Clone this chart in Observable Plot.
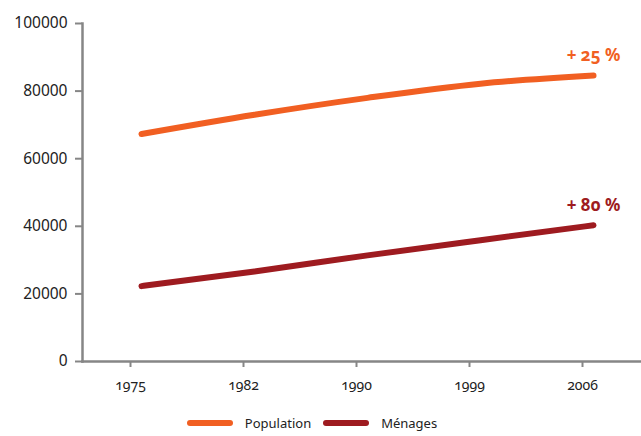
<!DOCTYPE html>
<html>
<head>
<meta charset="utf-8">
<script src="https://cdn.jsdelivr.net/npm/d3@7"></script>
<script src="https://cdn.jsdelivr.net/npm/@observablehq/plot@0.6"></script>
<style>
  html, body { margin: 0; padding: 0; background: #fff; }
  body { width: 641px; height: 436px; overflow: hidden; font-family: "Noto Sans", sans-serif; }
  #chart svg { display: block; font-variant-numeric: oldstyle-nums; }
  .legend { display: flex; align-items: center; justify-content: center; gap: 0; padding-right: 17px;
            font-size: 13px; color: #222; height: 26px; }
  .legend .item { display: flex; align-items: center; }
  .legend .swatch { width: 46px; height: 6px; border-radius: 3px; margin-right: 12px; }
  .legend .item + .item { margin-left: 12px; }
</style>
</head>
<body>
<div id="chart"></div>
<script>
// Census years (ordinal, evenly spaced on the axis)
const years = ["1975", "1982", "1990", "1999", "2006"];

// Population and number of households per census year
const population = [67300, 73000, 78000, 82200, 84600];
const menages = [22300, 26650, 31400, 35900, 40300];

// Series names, colours and growth labels over the whole period
const seriesNames = ["Population", "Ménages"];
const seriesColors = ["#F15F22", "#9E1B20"];
const growthLabels = ["+ 25 %", "+ 80 %"];

// Y-axis ticks
const yTicks = [0, 20000, 40000, 60000, 80000, 100000];

const seriesValues = [population, menages];
const rows = seriesNames.flatMap((name, i) =>
  years.map((year, j) => ({ series: name, year, value: seriesValues[i][j] }))
);
const lastYear = years[years.length - 1];
const endRows = seriesNames.map((name, i) => ({
  series: name,
  year: lastYear,
  value: seriesValues[i][years.length - 1],
  label: growthLabels[i]
}));

const axisGrey = "#868686";

const chart = Plot.plot({
  width: 641,
  height: 410,
  marginLeft: 82,
  marginRight: 0,
  marginTop: 23,
  marginBottom: 49,
  style: { fontFamily: "'Noto Sans', sans-serif", fontSize: "14px", color: "#222", background: "#fff" },
  x: { type: "point", domain: years, padding: 0, insetLeft: 46, insetRight: 58 },
  y: { domain: [0, 100000] },
  color: { domain: seriesNames, range: seriesColors },
  marks: [
    Plot.axisY({
      ticks: yTicks,
      tickSize: 7,
      tickPadding: 8,
      tickFormat: d => String(d),
      label: null,
      stroke: axisGrey,
      strokeWidth: 2,
      fill: "#222",
      fontSize: 15.5
    }),
    Plot.axisX({
      tickSize: 6,
      tickPadding: 13,
      label: null,
      stroke: axisGrey,
      strokeWidth: 2,
      fill: "#222",
      fontSize: 14
    }),
    Plot.frame({ anchor: "left", stroke: axisGrey, strokeWidth: 2.5 }),
    Plot.frame({ anchor: "bottom", stroke: axisGrey, strokeWidth: 2.5 }),
    Plot.line(rows, {
      x: "year",
      y: "value",
      z: "series",
      stroke: "series",
      strokeWidth: 6,
      strokeLinecap: "round",
      curve: "monotone-x",
      dx: 11
    }),
    Plot.text(endRows, {
      x: "year",
      y: "value",
      text: "label",
      fill: "series",
      dx: 11,
      dy: -20,
      fontSize: 17,
      fontWeight: "bold"
    })
  ]
});

document.getElementById("chart").appendChild(chart);

// Legend with line swatches below the chart
const legend = document.createElement("div");
legend.className = "legend";
seriesNames.forEach((name, i) => {
  const item = document.createElement("div");
  item.className = "item";
  const sw = document.createElement("span");
  sw.className = "swatch";
  sw.style.background = seriesColors[i];
  const label = document.createElement("span");
  label.textContent = name;
  item.appendChild(sw);
  item.appendChild(label);
  legend.appendChild(item);
});
document.body.appendChild(legend);
</script>
</body>
</html>
